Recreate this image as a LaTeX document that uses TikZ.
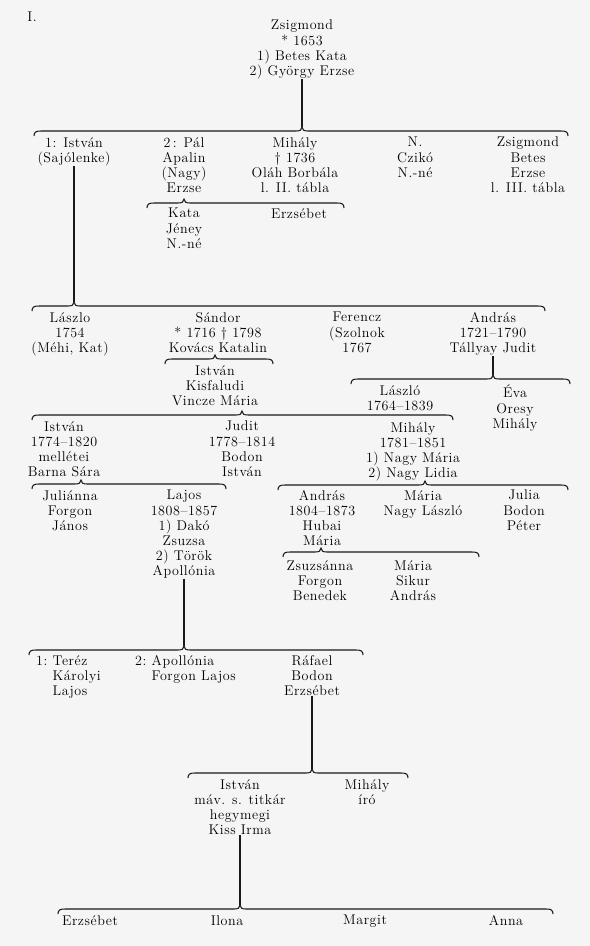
\documentclass[tikz,border=0pt]{standalone}
\usepackage{fontspec}
\setmainfont{lmroman12-regular.otf}[LetterSpace=4]

% brace over a row of siblings: name of tip, y, left end, tip x, right end
\newcommand{\sibbrace}[5]{%
  \coordinate (#1) at (#4,#2-4);
  \draw[bracket] (#3,#2+5) .. controls (#3,#2+1) and (#3+2,#2) .. (#3+7,#2)
    -- (#4-6,#2) .. controls (#4-2,#2) and (#4,#2-1) .. (#1)
    .. controls (#4,#2-1) and (#4+2,#2) .. (#4+6,#2)
    -- (#5-7,#2) .. controls (#5-2,#2) and (#5,#2+1) .. (#5,#2+5);}

\begin{document}
\begin{tikzpicture}[
  x=0.3mm, y=-0.3mm,
  person/.style={anchor=north, align=center, inner sep=0pt, yshift=-0.6mm, font=\fontsize{12}{13}\selectfont},
  leftperson/.style={person, anchor=north west, align=left},
  link/.style={line width=1.2pt, draw=black!90},
  bracket/.style={line width=0.9pt, draw=black!90}
]
\fill[black!4] (0,0) rectangle (590,946);
\useasboundingbox (0,0) rectangle (590,946);

\node[person, anchor=center] (tabla) at (32,15) {I.};

\node[person] (zsig) at (302,18) {Zsigmond\\* 1653\\1) Betes Kata\\2) György Erzse};
\sibbrace{b1}{131}{34}{302}{568}
\draw[link] (zsig.south) -- (b1);

\node[person] (istvan1) at (74,135) {1: István\\(Sajólenke)};
\node[person] (pal) at (184,135) {2\,: Pál\\Apalin\\(Nagy)\\Erzse};
\node[person] (mihaly1) at (295,135) {Mihály\\\textdagger\ 1736\\Oláh Borbála\\l. II. tábla};
\node[person] (n1) at (415,135) {N.\\Czikó\\N.-né};
\node[person] (zsig2) at (528,135) {Zsigmond\\Betes\\Erzse\\l. III. tábla};

\sibbrace{b1a}{203}{147}{184}{344}
\node[person] (kata) at (184,206) {Kata\\Jéney\\N.-né};
\node[person] (erzsebet1) at (299,206) {Erzsébet};

\sibbrace{b2}{306}{32}{74}{545}
\draw[link] (istvan1.south) -- (b2);

\node[person] (laszlo1) at (70,310) {Lászlo\\1754\\(Méhi, Kat)};
\node[person] (sandor) at (218,310) {Sándor\\* 1716 \textdagger\ 1798\\Kovács Katalin};
\node[person] (ferencz) at (357,310) {Ferencz\\(Szolnok\\1767};
\node[person] (andras1) at (493,310) {András\\1721--1790\\Tállyay Judit};

\sibbrace{b2a}{359}{165}{215}{273}
\node[person] (istvan2) at (215,363) {István\\Kisfaludi\\Vincze Mária};

\sibbrace{b2b}{379}{351}{493}{570}
\draw[link] (andras1.south) -- (b2b);
\node[person] (laszlo2) at (400,383) {László\\1764--1839};
\node[person] (eva) at (515,383) {Éva\\Oresy\\Mihály};

\sibbrace{b3}{415}{32}{242}{453}
\node[person] (istvan3) at (64,419) {István\\1774--1820\\mellétei\\Barna Sára};
\node[person] (judit) at (242,419) {Judit\\1778--1814\\Bodon\\István};
\node[person] (mihaly2) at (413,420) {Mihály\\1781--1851\\1) Nagy Mária\\2) Nagy Lidia};

\sibbrace{b3a}{484}{32}{81}{226}
\node[person] (julianna) at (70,488) {Juliánna\\Forgon\\János};
\node[person] (lajos) at (184,488) {Lajos\\1808--1857\\1) Dakó\\Zsuzsa\\2) Török\\Apollónia};

\sibbrace{b3b}{485}{278}{425}{568}
\node[person] (andras2) at (322,488) {András\\1804--1873\\Hubai\\Mária};
\node[person] (maria1) at (423,488) {Mária\\Nagy László};
\node[person] (julia) at (524,488) {Julia\\Bodon\\Péter};

\sibbrace{b3c}{552}{283}{321}{479}
\node[person] (zsuzsanna) at (320,558) {Zsuzsánna\\Forgon\\Benedek};
\node[person] (maria2) at (413,558) {Mária\\Sikur\\András};

\sibbrace{b4}{650}{29}{184}{363}
\draw[link] (lajos.south) -- (b4);
\node[leftperson] (terez) at (36,653) {1:~Teréz\\\phantom{1:~}Károlyi\\\phantom{1:~}Lajos};
\node[leftperson] (apollonia) at (135,653) {2:~Apollónia\\\phantom{2:~}Forgon Lajos};
\node[person] (rafael) at (312,653) {Ráfael\\Bodon\\Erzsébet};

\sibbrace{b5}{773}{188}{312}{408}
\draw[link] (rafael.south) -- (b5);
\node[person] (istvan4) at (240,777) {István\\máv. s. titkár\\hegymegi\\Kiss Irma};
\node[person] (mihaly3) at (367,777) {Mihály\\író};

\sibbrace{b6}{909}{58}{240}{553}
\draw[link] (istvan4.south) -- (b6);
\node[person] (erzsebet2) at (90,913) {Erzsébet};
\node[person] (ilona) at (227,913) {Ilona};
\node[person] (margit) at (365,913) {Margit};
\node[person] (anna) at (506,913) {Anna};

\end{tikzpicture}
\end{document}
